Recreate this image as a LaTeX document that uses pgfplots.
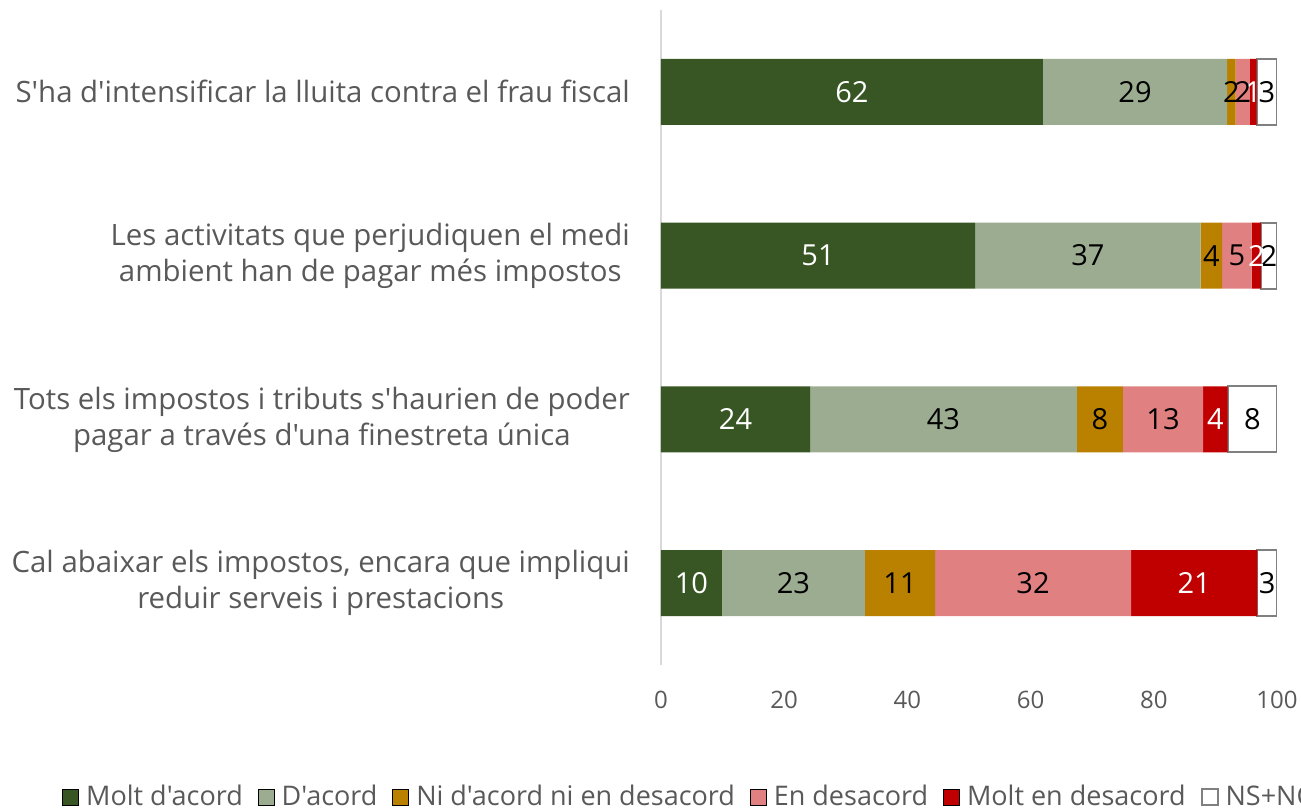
\documentclass[border=0pt]{standalone}
\usepackage{pgfplots}
\pgfplotsset{compat=1.18}
\usepackage{fontspec}
\setmainfont{Open Sans}[Ligatures=TeXOff]

\definecolor{txt}{HTML}{595959}
\definecolor{axgray}{HTML}{D9D9D9}
\definecolor{c1}{HTML}{375623}
\definecolor{c2}{HTML}{9CAC91}
\definecolor{c3}{HTML}{BA8000}
\definecolor{c4}{HTML}{E08080}
\definecolor{c5}{HTML}{C00000}
\definecolor{c6}{HTML}{808080}

\begin{document}
\begin{tikzpicture}
\begin{axis}[
    xbar stacked,
    bar width=33pt,
    width=308pt, height=327.5pt, scale only axis,
    xmin=0, xmax=100, ymin=-0.5, ymax=3.5,
    axis lines=left,
    axis line style={-},
    x axis line style={draw=none},
    y axis line style={draw=axgray, line width=1pt},
    major tick length=0pt,
    xtick={0,20,...,100},
    ytick={0,1,2,3},
    yticklabels={
        {Cal abaixar els impostos, encara que impliqui\\reduir serveis i prestacions},
        {Tots els impostos i tributs s'haurien de poder\\pagar a través d'una finestreta única},
        {Les activitats que perjudiquen el medi\\ambient han de pagar més impostos},
        {S'ha d'intensificar la lluita contra el frau fiscal}},
    yticklabel style={align=center, font=\fontsize{14.7}{18}\selectfont, text=txt, xshift=-12pt},
    xticklabel style={font=\fontsize{12}{14}\selectfont, text=txt, yshift=-9.5pt},
    /pgf/number format/assume math mode=true,
    point meta=explicit symbolic,
    nodes near coords,
    every node near coord/.append style={anchor=center,
        font=\fontsize{14.5}{16}\selectfont, text=black},
    legend columns=-1,
    legend style={at={(rel axis cs:0,0)}, anchor=west, xshift=-299.5pt, yshift=-66pt,
        draw=none, fill=none, inner sep=0pt, font=\fontsize{13.5}{15}\selectfont, text=txt,
        /tikz/every even column/.append style={column sep=5.5pt},
        /tikz/every odd column/.append style={column sep=1.5pt}},
    legend image code/.code={\draw[#1] (0pt,-4pt) rectangle (8pt,4pt);},
]
\addplot[fill=c1, draw=none, every node near coord/.append style={text=white}]
    coordinates {(9.9,0) [10] (24.2,1) [24] (51.0,2) [51] (62.0,3) [62]};
\addplot[fill=c2, draw=none]
    coordinates {(23.2,0) [23] (43.3,1) [43] (36.6,2) [37] (29.9,3) [29]};
\addplot[fill=c3, draw=none]
    coordinates {(11.4,0) [11] (7.5,1) [8] (3.5,2) [4] (1.4,3) [2]};
\addplot[fill=c4, draw=none]
    coordinates {(31.8,0) [32] (13.0,1) [13] (4.8,2) [5] (2.3,3) [2]};
\addplot[fill=c5, draw=none, every node near coord/.append style={text=white}]
    coordinates {(20.5,0) [21] (4.0,1) [4] (1.5,2) [2] (1.1,3) [1]};
\addplot[fill=white, draw=c6, line width=1pt]
    coordinates {(3.2,0) [3] (8.0,1) [8] (2.6,2) [2] (3.3,3) [3]};
\legend{Molt d'acord, D'acord, Ni d'acord ni en desacord, En desacord, Molt en desacord, NS+NC}
\coordinate (bl) at (rel axis cs:0,0);
\coordinate (tr) at (rel axis cs:1,1);
\end{axis}
\pgfresetboundingbox
\path[use as bounding box] ([xshift=-330.5pt,yshift=-72pt]bl) rectangle ([xshift=12pt,yshift=5pt]tr);
\end{tikzpicture}
\end{document}
